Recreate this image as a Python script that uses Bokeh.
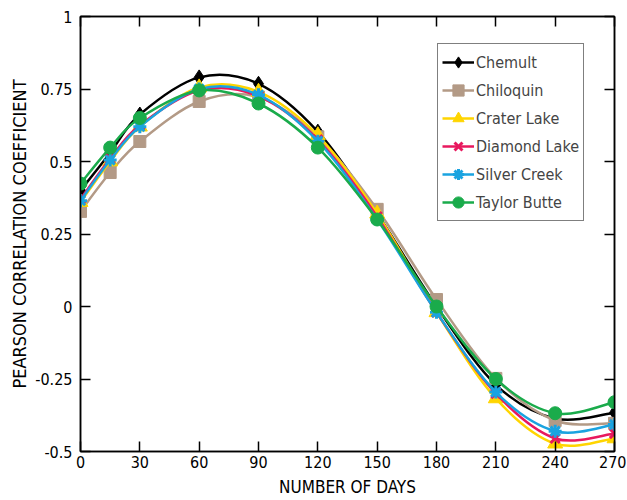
from bokeh.plotting import figure
from bokeh.models import LinearAxis, FixedTicker, CustomJSTickFormatter, Range1d, Legend, LegendItem
from bokeh.embed import file_html
from bokeh.resources import INLINE

days = [0, 15, 30, 60, 90, 120, 150, 180, 210, 240, 270]
chemult = [0.40, 0.53, 0.662, 0.79, 0.768, 0.603, 0.32, 0.0, -0.27, -0.386, -0.366]
chiloquin = [0.328, 0.462, 0.569, 0.707, 0.722, 0.585, 0.335, 0.024, -0.248, -0.393, -0.403]
crater_lake = [0.36, 0.50, 0.62, 0.755, 0.74, 0.59, 0.32, -0.02, -0.317, -0.473, -0.455]
diamond_lake = [0.37, 0.51, 0.625, 0.745, 0.725, 0.575, 0.31, -0.02, -0.30, -0.455, -0.438]
silver_creek = [0.365, 0.505, 0.62, 0.75, 0.73, 0.57, 0.30, -0.02, -0.295, -0.43, -0.407]
taylor_butte = [0.424, 0.548, 0.65, 0.745, 0.70, 0.548, 0.30, 0.0, -0.25, -0.368, -0.33]

names = ["Chemult", "Chiloquin", "Crater Lake", "Diamond Lake", "Silver Creek", "Taylor Butte"]
series = [chemult, chiloquin, crater_lake, diamond_lake, silver_creek, taylor_butte]
colors = ["#000000", "#b39a86", "#ffd500", "#e8185e", "#1aa3e0", "#1aab4b"]
markers = ["diamond", "square", "triangle", "x", "asterisk", "circle"]
sizes = [15, 12, 15, 13, 13, 13]

x_ticks = [0, 30, 60, 90, 120, 150, 180, 210, 240, 270]
y_ticks = [-0.5, -0.25, 0, 0.25, 0.5, 0.75, 1]

FONT = "DejaVu Sans Condensed"

p = figure(width=626, height=499, output_backend="svg", toolbar_location=None,
           x_range=Range1d(0, 270), y_range=Range1d(-0.5, 1),
           min_border_left=80, min_border_right=12, min_border_top=16, min_border_bottom=48)
p.grid.visible = False
p.outline_line_color = "black"
p.outline_line_width = 1.5
p.background_fill_color = "white"

fmt = CustomJSTickFormatter(code="return tick.toString();")
blank = CustomJSTickFormatter(code="return '';")

p.xaxis.ticker = FixedTicker(ticks=x_ticks)
p.yaxis.ticker = FixedTicker(ticks=y_ticks)
p.xaxis.formatter = fmt
p.yaxis.formatter = fmt
for ax in [p.xaxis[0], p.yaxis[0]]:
    ax.major_tick_in = 10
    ax.major_tick_out = 0
    ax.minor_tick_in = 0
    ax.minor_tick_out = 0
    ax.axis_line_color = "black"
    ax.axis_line_width = 1.5
    ax.major_tick_line_width = 1.5
    ax.major_label_text_font = FONT
    ax.major_label_text_font_size = "16px"
    ax.major_label_text_color = "black"
    ax.axis_label_text_font = FONT
    ax.axis_label_text_font_style = "normal"
    ax.axis_label_text_color = "black"
p.xaxis.axis_label = "NUMBER OF DAYS"
p.yaxis.axis_label = "PEARSON CORRELATION COEFFICIENT"
p.xaxis.axis_label_text_font_size = "17px"
p.yaxis.axis_label_text_font_size = "18px"
p.xaxis.major_label_standoff = 4
p.xaxis.axis_label_standoff = 6
p.yaxis.major_label_standoff = 8
p.yaxis.axis_label_standoff = 2

top = LinearAxis(ticker=FixedTicker(ticks=x_ticks), formatter=blank,
                 major_tick_in=10, major_tick_out=0, minor_tick_in=0, minor_tick_out=0,
                 major_tick_line_width=1.5, axis_line_width=1.5,
                 major_label_standoff=0)
right = LinearAxis(ticker=FixedTicker(ticks=y_ticks), formatter=blank,
                   major_tick_in=10, major_tick_out=0, minor_tick_in=0, minor_tick_out=0,
                   major_tick_line_width=1.5, axis_line_width=1.5,
                   major_label_standoff=0)
p.add_layout(top, "above")
p.add_layout(right, "right")

items = []
n = len(days)
for name, ys, c, m, s in zip(names, series, colors, markers, sizes):
    x0, y0, x1, y1, cx0, cy0, cx1, cy1 = [], [], [], [], [], [], [], []
    for i in range(n - 1):
        ip = max(i - 1, 0)
        inx = min(i + 2, n - 1)
        x0.append(days[i]); y0.append(ys[i])
        x1.append(days[i + 1]); y1.append(ys[i + 1])
        cx0.append(days[i] + (days[i + 1] - days[ip]) / 6.0)
        cy0.append(ys[i] + (ys[i + 1] - ys[ip]) / 6.0)
        cx1.append(days[i + 1] - (days[inx] - days[i]) / 6.0)
        cy1.append(ys[i + 1] - (ys[inx] - ys[i]) / 6.0)
    p.bezier(x0=x0, y0=y0, x1=x1, y1=y1, cx0=cx0, cy0=cy0, cx1=cx1, cy1=cy1,
             line_color=c, line_width=2.5)
    lr = p.line(days, ys, line_color=c, line_width=2.5, visible=False)
    if m in ("x", "asterisk"):
        sr = p.scatter(days, ys, marker=m, size=s, line_color=c, line_width=3)
    else:
        sr = p.scatter(days, ys, marker=m, size=s, fill_color=c, line_color=c)
    items.append(LegendItem(label=name, renderers=[lr, sr]))

legend = Legend(items=items, location=(357, 230))
legend.margin = 0
legend.padding = 4
legend.spacing = 0
legend.glyph_height = 28
legend.glyph_width = 32
legend.label_height = 28
legend.label_standoff = 2
legend.label_text_font = FONT
legend.label_text_font_size = "16px"
legend.border_line_color = "black"
legend.border_line_width = 1.5
legend.background_fill_alpha = 1
legend.inactive_fill_alpha = 0
p.add_layout(legend, "center")

open("out.html", "w").write(file_html(p, INLINE))
